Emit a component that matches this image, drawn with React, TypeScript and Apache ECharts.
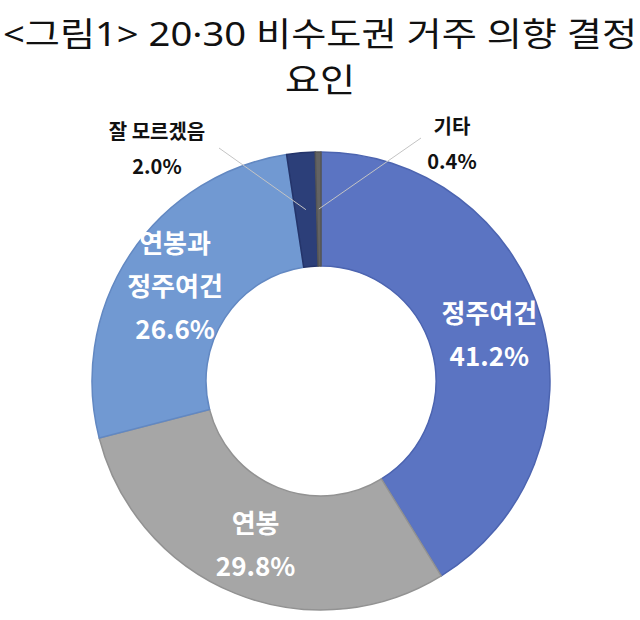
import React, { useEffect, useRef } from "react";
import * as echarts from "echarts";

const titleLines = ["<그림1> 20·30 비수도권 거주 의향 결정", "요인"];
const categories = ["정주여건", "연봉", "연봉과\n정주여건", "잘 모르겠음", "기타"];
const values = [41.2, 29.8, 26.6, 2.0, 0.4];
const colors = ["#5b74c2", "#a6a6a6", "#7199d2", "#2c3f79", "#636363"];
const borders = ["#4c64b0", "#929292", "#6288c2", "#24346a", "#555555"];

export default function App() {
  const ref = useRef<HTMLDivElement>(null);
  useEffect(() => {
    document.body.style.margin = "0";
    const chart = echarts.init(ref.current!, null, { renderer: "svg" });
    const cx = 321;
    const cy = 381;
    const total = values.reduce((a, b) => a + b, 0);
    const midAngle = (i: number) => {
      let cum = 0;
      for (let k = 0; k < i; k++) cum += values[k];
      return ((cum + values[i] / 2) / total) * Math.PI * 2;
    };
    const anchor = (i: number, r: number) => {
      const t = midAngle(i);
      return [cx + r * Math.sin(t), cy - r * Math.cos(t)];
    };
    const outsideLabels: Record<number, { x: number; y: number; end: number[] }> = {
      3: { x: 157, y: 148, end: [219, 148] },
      4: { x: 452, y: 143, end: [421, 138] },
    };
    const guideLines = Object.keys(outsideLabels).map((k) => {
      const i = Number(k);
      const a = anchor(i, 172);
      const e = outsideLabels[i].end;
      return {
        type: "line",
        z: 100,
        shape: { x1: a[0], y1: a[1], x2: e[0], y2: e[1] },
        style: { stroke: "#c4c4c4", lineWidth: 1 },
      };
    });
    const titleTexts = titleLines.map((t, i) => ({
      type: "text",
      x: 320,
      y: 33 + i * 46,
      scaleX: 1.14,
      style: {
        text: t,
        fill: "#111",
        font: '400 33.5px "Noto Sans", "Noto Sans CJK KR"',
        textAlign: "center",
        textVerticalAlign: "middle",
      },
    }));
    chart.setOption({
      animation: false,
      backgroundColor: "#ffffff",
      graphic: [...titleTexts, ...guideLines],
      series: [
        {
          type: "pie",
          center: [cx, cy],
          radius: [115, 229],
          startAngle: 90,
          clockwise: true,
          avoidLabelOverlap: false,
          label: {
            show: true,
            position: "inside",
            formatter: (p: any) => `${p.name}\n${p.value.toFixed(1)}%`,
            color: "#ffffff",
            fontFamily: "Noto Sans CJK KR",
            fontWeight: "bold",
            fontSize: 26,
            lineHeight: 43,
          },
          labelLine: { show: false },
          labelLayout: (params: any) => {
            const o = outsideLabels[params.dataIndex];
            if (!o) return {};
            return {
              x: o.x,
              y: o.y,
              align: "center",
              verticalAlign: "middle",
            };
          },
          data: categories.map((name, i) => {
            const item: any = {
              name,
              value: values[i],
              itemStyle: { color: colors[i], borderColor: borders[i], borderWidth: 1.5 },
            };
            if (i >= 3) {
              item.label = {
                position: "outside",
                color: "#111111",
                fontSize: 20,
                lineHeight: 35,
                fontWeight: "bold",
              };
              item.labelLine = { show: false };
            }
            return item;
          }),
        },
      ],
    });
    return () => chart.dispose();
  }, []);
  return <div ref={ref} style={{ width: 640, height: 620 }} />;
}
